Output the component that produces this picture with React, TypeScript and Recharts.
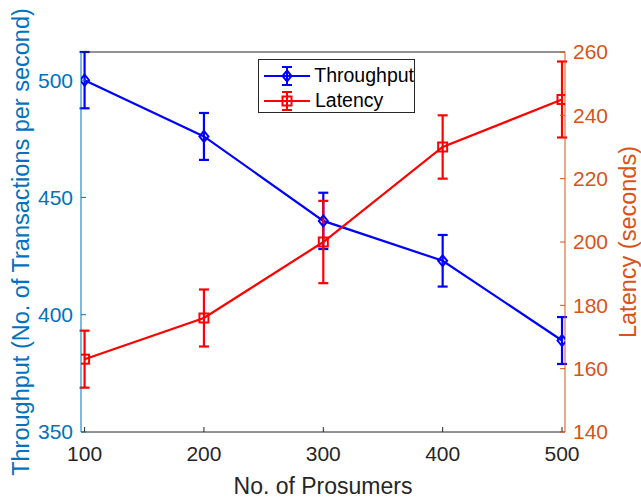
import {
  ComposedChart, ErrorBar, Label, Legend, Line, XAxis, YAxis,
} from "recharts";

// values
const prosumers = [100, 200, 300, 400, 500];
const throughput = [500, 476, 440, 423, 389];
const throughputErr = [12, 10, 12, 11, 10];
const latency = [163, 176, 200, 230, 245];
const latencyErr = [9, 9, 13, 10, 12];

const xTicks = [100, 200, 300, 400, 500];
const leftTicks = [350, 400, 450, 500];
const rightTicks = [140, 160, 180, 200, 220, 240, 260];

const C = {
  blue: "#0000ff", red: "#ff0000",
  leftAxis: "#0072bd", rightAxis: "#d95319", ink: "#262626",
};
const FONT = "'Liberation Sans', Arial, Helvetica, sans-serif";

const rows = prosumers.map((p, i) => ({
  p, tp: throughput[i], tpErr: throughputErr[i], lat: latency[i], latErr: latencyErr[i],
}));

function Diamond({ cx, cy, stroke }: { cx?: number; cy?: number; stroke?: string }) {
  if (cx == null || cy == null) return null;
  return <path d={`M${cx},${cy - 5.5} L${cx + 4.5},${cy} L${cx},${cy + 5.5} L${cx - 4.5},${cy} Z`}
    fill="none" stroke={stroke} strokeWidth={2} />;
}
function Square({ cx, cy, stroke }: { cx?: number; cy?: number; stroke?: string }) {
  if (cx == null || cy == null) return null;
  return <rect x={cx - 4.5} y={cy - 4.5} width={9} height={9}
    fill="none" stroke={stroke} strokeWidth={2} />;
}

function LegendIcon({ color, square }: { color: string; square?: boolean }) {
  return (
    <svg width={48} height={22} style={{ display: "block" }}>
      <line x1={1} y1={11} x2={47} y2={11} stroke={color} strokeWidth={2} />
      <line x1={24} y1={2} x2={24} y2={20} stroke={color} strokeWidth={2} />
      <line x1={19} y1={2} x2={29} y2={2} stroke={color} strokeWidth={2} />
      <line x1={19} y1={20} x2={29} y2={20} stroke={color} strokeWidth={2} />
      {square ? <Square cx={24} cy={11} stroke={color} /> : <Diamond cx={24} cy={11} stroke={color} />}
    </svg>
  );
}

function ChartLegend() {
  const items = [
    { name: "Throughput", color: C.blue, square: false },
    { name: "Latency", color: C.red, square: true },
  ];
  return (
    <div style={{
      border: `1px solid ${C.ink}`, background: "#fff", width: 157, height: 54,
      boxSizing: "border-box", padding: "3px 0 0 4px", fontFamily: FONT, fontSize: 19.5, color: "#000",
    }}>
      {items.map((it) => (
        <div key={it.name} style={{ display: "flex", alignItems: "center", gap: 4, height: 25 }}>
          <LegendIcon color={it.color} square={it.square} />
          <span>{it.name}</span>
        </div>
      ))}
    </div>
  );
}

export default function App() {
  return (
    <div style={{ position: "absolute", left: 0, top: 0, background: "#fff" }}>
      <ComposedChart width={641} height={498} data={rows}
        margin={{ top: 51, right: 16, bottom: 36, left: 21 }}
        style={{ fontFamily: FONT }}>
        <XAxis xAxisId="b" dataKey="p" type="number" domain={[97, 502.5]} ticks={xTicks}
          allowDataOverflow height={30} stroke={C.ink} tickSize={-5} tickMargin={19}
          tick={{ fill: C.ink, fontSize: 21 }}>
          <Label value="No. of Prosumers" position="insideBottom" offset={-32}
            style={{ fill: C.ink, fontSize: 23 }} />
        </XAxis>
        <XAxis xAxisId="t" dataKey="p" type="number" domain={[97, 502.5]} ticks={xTicks}
          allowDataOverflow orientation="top" height={1} stroke={C.ink} tickSize={-5} tick={false} />
        <YAxis yAxisId="l" domain={[350, 512]} ticks={leftTicks} allowDataOverflow width={60}
          stroke={C.leftAxis} tickSize={-5} tickMargin={13}
          tick={{ fill: C.leftAxis, fontSize: 21 }}>
          <Label value="Throughput (No. of Transactions per second)" angle={-90} position="insideLeft"
            offset={0} style={{ fill: C.leftAxis, fontSize: 23.5, textAnchor: "middle" }} />
        </YAxis>
        <YAxis yAxisId="r" orientation="right" domain={[140, 260]} ticks={rightTicks} allowDataOverflow
          width={60} stroke={C.rightAxis} tickSize={-5} tickMargin={13}
          tick={{ fill: C.rightAxis, fontSize: 21 }}>
          <Label value="Latency (seconds)" angle={-90} position="insideRight"
            offset={-3} style={{ fill: C.rightAxis, fontSize: 23.5, textAnchor: "middle" }} />
        </YAxis>
        <Legend content={<ChartLegend />} layout="vertical" align="center" verticalAlign="middle"
          wrapperStyle={{ position: "absolute", left: 258, top: 59, width: "auto" }} />
        <Line xAxisId="b" yAxisId="l" dataKey="tp" name="Throughput" stroke={C.blue} strokeWidth={2.2}
          dot={<Diamond stroke={C.blue} />} activeDot={false} isAnimationActive={false}>
          <ErrorBar dataKey="tpErr" direction="y" width={5} stroke={C.blue} strokeWidth={2.2}
            isAnimationActive={false} />
        </Line>
        <Line xAxisId="b" yAxisId="r" dataKey="lat" name="Latency" stroke={C.red} strokeWidth={2.2}
          dot={<Square stroke={C.red} />} activeDot={false} isAnimationActive={false}>
          <ErrorBar dataKey="latErr" direction="y" width={5} stroke={C.red} strokeWidth={2.2}
            isAnimationActive={false} />
        </Line>
      </ComposedChart>
    </div>
  );
}
